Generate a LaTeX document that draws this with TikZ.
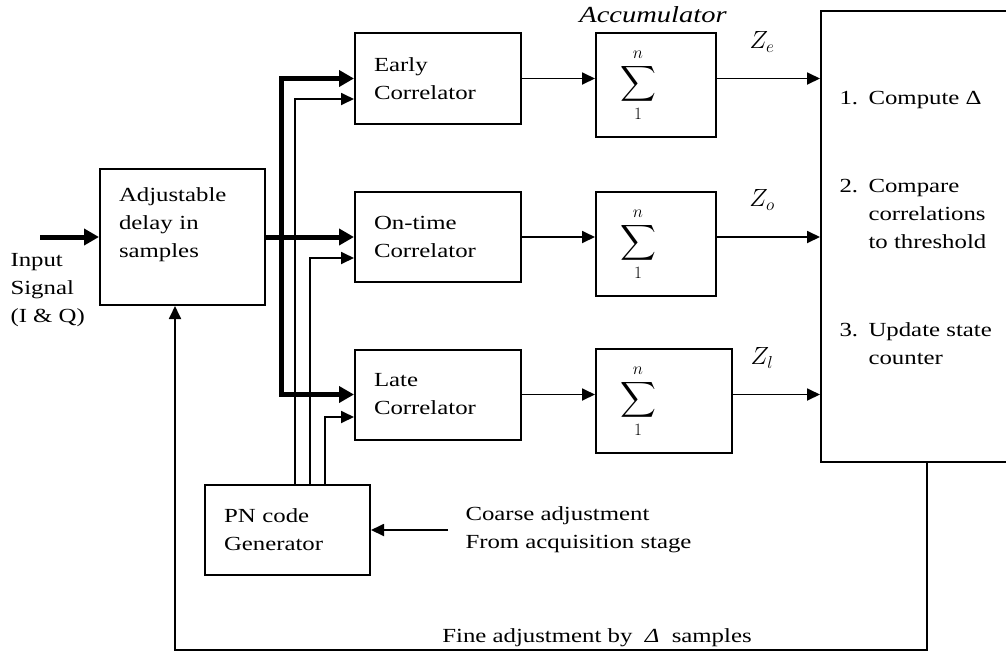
\documentclass[tikz,border=0pt]{standalone}
\usepackage{amsmath}
\usepackage{fontspec}
\setmainfont{Liberation Serif}[FakeStretch=1.24]
\usetikzlibrary{arrows.meta}

\begin{document}
\begin{tikzpicture}[x=1pt,y=-1pt,
	font=\fontsize{20}{28}\selectfont,
	box/.style={draw,line width=2pt,align=left,inner xsep=19pt},
	arr/.style={line width=1.8pt,-{Triangle[length=13pt,width=12pt]}},
	thickarr/.style={line width=5pt,-{Triangle[length=15pt,width=16pt]}},
	big/.style={font=\fontsize{26}{30}\selectfont}]
	\useasboundingbox (0,0) rectangle (1006,654);
	\clip (0,0) rectangle (1006,654);

	\node[box,text width=127pt,minimum height=136pt] (delay) at (182.5,237) {Adjustable\\delay in\\samples\\\mbox{}};
	\node[box,text width=128pt,minimum height=91pt] (early) at (438,78.5) {Early\\Correlator};
	\node[box,text width=128pt,minimum height=90pt] (ontime) at (438,237) {On-time\\Correlator};
	\node[box,text width=128pt,minimum height=90pt] (late) at (438,394.5) {Late\\Correlator};
	\node[box,text width=127pt,minimum height=90pt] (pn) at (287.5,530) {PN code\\Generator};

	\node[box,big,inner xsep=24pt,text width=72pt,minimum height=104pt] (acce) at (656,85) {$\displaystyle\sum_{\rule{0pt}{9pt}1}^{n\rule[-3pt]{0pt}{0pt}}$};
	\node[box,big,inner xsep=24pt,text width=72pt,minimum height=104pt] (acco) at (656,244) {$\displaystyle\sum_{\rule{0pt}{9pt}1}^{n\rule[-3pt]{0pt}{0pt}}$};
	\node[box,big,inner xsep=24pt,text width=88pt,minimum height=104pt] (accl) at (664,401) {$\displaystyle\sum_{\rule{0pt}{9pt}1}^{n\rule[-3pt]{0pt}{0pt}}$};
	\node[font=\fontsize{23}{28}\selectfont\itshape] (acclabel) at (653,15) {Accumulator};

	\node[box,minimum width=199pt,minimum height=451pt] (ctrl) at (920.5,236.5) {};
	\node[anchor=west] (step1) at (836,100) {\makebox[29pt][l]{1.}Compute Δ};
	\node[anchor=west,align=left] (step2) at (836,214) {\makebox[29pt][l]{2.}Compare\\\hspace*{29pt}correlations\\\hspace*{29pt}to threshold};
	\node[anchor=west,align=left] (step3) at (836,344) {\makebox[29pt][l]{3.}Update state\\\hspace*{29pt}counter};

	\node[big] (ze) at (762,42) {$Z_e$};
	\node[big] (zo) at (762,200) {$Z_o$};
	\node[big] (zl) at (762,358) {$Z_l$};

	\node[anchor=west,align=left] (input) at (7,290) {Input\\Signal\\(I \& Q)};
	\node[anchor=west,align=left] (coarse) at (462,530) {Coarse adjustment\\From acquisition stage};
	\node[anchor=base] (fine) at (597,642) {Fine adjustment by \ \textit{Δ} \ samples};

	\coordinate (in) at (40,237);
	\coordinate (split) at (281,237);
	\coordinate (fbr) at (927,650);
	\coordinate (fbl) at (175,650);

	% signal paths
	\draw[thickarr] (in) -- (delay.west);
	\draw[thickarr] (delay.east) -- (ontime.west);
	\draw[thickarr,{Triangle[length=15pt,width=16pt]}-{Triangle[length=15pt,width=16pt]}] (early.west) -| (split) |- (late.west);

	% code replicas
	\draw[arr] ([xshift=7.5pt]pn.north) |- ([yshift=-20.5pt]early.west);
	\draw[arr] ([xshift=22.5pt]pn.north) |- ([yshift=-21pt]ontime.west);
	\draw[arr] ([xshift=37.5pt]pn.north) |- ([yshift=-22.5pt]late.west);
	\draw[arr] ([xshift=-14pt]coarse.west) -- (pn.east);

	\draw[arr] (early.east) -- (early.east -| acce.west);
	\draw[arr] (ontime.east) -- (ontime.east -| acco.west);
	\draw[arr] (late.east) -- (late.east -| accl.west);
	\draw[arr] (early.east -| acce.east) -- (early.east -| ctrl.west);
	\draw[arr] (ontime.east -| acco.east) -- (ontime.east -| ctrl.west);
	\draw[arr] (late.east -| accl.east) -- (late.east -| ctrl.west);

	% feedback
	\draw[arr] (ctrl.south -| fbr) -- (fbr) -- (fbl) -- (fbl |- delay.south);
\end{tikzpicture}
\end{document}
